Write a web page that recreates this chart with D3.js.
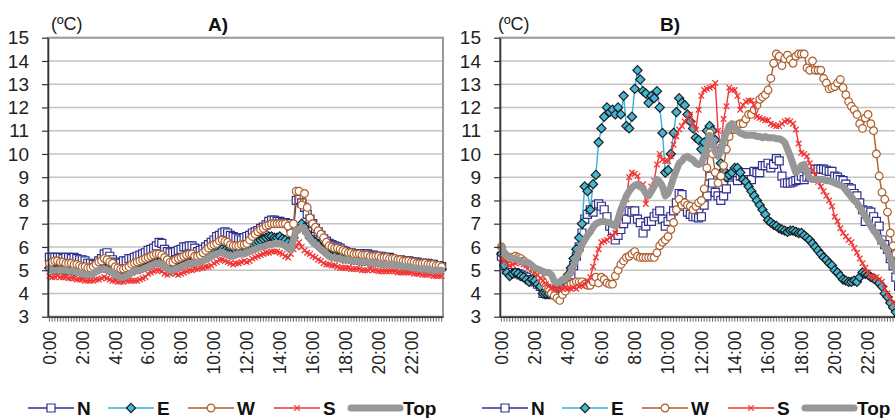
<!DOCTYPE html>
<html>
<head>
<meta charset="utf-8">
<script src="https://cdn.jsdelivr.net/npm/d3@7"></script>
<style>
  body { margin: 0; background: #fff; }
  svg { display: block; font-family: "Liberation Sans", Arial, sans-serif; }
</style>
</head>
<body>
<div id="chart"></div>
<script>
// series and labels
var seriesNames = ["N", "E", "W", "S", "Top"];
var panelTitles = ["A)", "B)"];
var unitLabel = "(ºC)";
var hourLabels = ["0:00", "2:00", "4:00", "6:00", "8:00", "10:00", "12:00", "14:00", "16:00", "18:00", "20:00", "22:00"];
var yTicks = [3, 4, 5, 6, 7, 8, 9, 10, 11, 12, 13, 14, 15];

// 10-minute readings, one row per hour
var nA = [
  5.55,5.55,5.55,5.55,5.55,5.5, 5.55,5.55,5.5,5.55,5.5,5.45, 5.45,5.4,5.3,5.3,5.25,5.25,
  5.4,5.5,5.7,5.75,5.6,5.45, 5.35,5.3,5.3,5.4,5.4,5.5, 5.5,5.55,5.6,5.65,5.7,5.75,
  5.85,5.9,5.95,6.05,6.2,6.15, 5.9,5.8,5.75,5.75,5.8,5.85, 5.9,6.0,6.0,6.05,6.05,5.95,
  5.8,5.85,5.9,6.0,6.1,6.2, 6.3,6.45,6.5,6.6,6.65,6.6, 6.5,6.45,6.4,6.35,6.3,6.4,
  6.45,6.5,6.6,6.65,6.7,6.8, 6.85,6.95,7.1,7.15,7.15,7.1, 7.1,7.05,7.05,7.0,6.85,6.75,
  8.0,8.05,7.9,7.7,7.4,7.2, 7.0,6.8,6.65,6.5,6.35,6.25, 6.15,6.1,6.05,6.0,5.95,5.85,
  5.8,5.75,5.75,5.7,5.7,5.7, 5.7,5.7,5.7,5.65,5.65,5.6, 5.6,5.6,5.55,5.55,5.55,5.5,
  5.45,5.45,5.45,5.4,5.4,5.4, 5.35,5.35,5.35,5.3,5.3,5.3, 5.3,5.25,5.25,5.2,5.2,5.15
];
var eA = [
  5.1,5.05,5.0,5.05,5.05,5.0, 5.0,5.0,5.0,4.95,4.95,4.95, 4.9,4.85,4.85,4.85,4.9,5.0,
  5.05,5.1,5.1,5.05,5.0,4.95, 4.85,4.8,4.75,4.75,4.8,4.85, 4.95,5.0,5.05,5.05,5.1,5.15,
  5.2,5.25,5.3,5.35,5.35,5.3, 5.2,5.1,5.05,5.05,5.1,5.15, 5.2,5.25,5.3,5.35,5.35,5.35,
  5.4,5.45,5.5,5.6,5.7,5.8, 5.9,5.95,5.95,5.9,5.85,5.8, 5.8,5.8,5.85,5.9,5.95,6.0,
  6.05,6.1,6.15,6.2,6.25,6.3, 6.35,6.4,6.45,6.45,6.4,6.4, 6.45,6.35,6.3,6.2,6.1,6.4,
  6.85,6.8,7.0,6.85,6.6,6.4, 6.3,6.2,6.1,5.95,5.85,5.75, 5.65,5.6,5.6,5.55,5.55,5.5,
  5.5,5.5,5.45,5.45,5.45,5.4, 5.4,5.4,5.4,5.35,5.35,5.35, 5.35,5.3,5.3,5.3,5.3,5.3,
  5.3,5.25,5.25,5.2,5.2,5.2, 5.15,5.15,5.15,5.1,5.1,5.1, 5.1,5.05,5.05,5.05,5.05,5.05
];
var wA = [
  5.3,5.35,5.4,5.4,5.35,5.35, 5.3,5.3,5.3,5.25,5.25,5.2, 5.15,5.15,5.1,5.1,5.15,5.25,
  5.35,5.4,5.5,5.45,5.35,5.3, 5.15,5.1,5.05,5.05,5.1,5.15, 5.25,5.3,5.35,5.4,5.45,5.5,
  5.55,5.6,5.65,5.7,5.7,5.65, 5.55,5.45,5.35,5.35,5.45,5.5, 5.55,5.6,5.65,5.7,5.7,5.6,
  5.6,5.65,5.75,5.85,5.95,6.05, 6.1,6.15,6.25,6.3,6.25,6.2, 6.1,6.05,6.05,6.05,6.1,6.1,
  6.15,6.3,6.45,6.55,6.65,6.75, 6.8,6.9,6.95,7.0,7.0,7.0, 7.0,7.0,7.0,6.9,6.6,7.0,
  8.4,8.4,7.8,8.3,7.7,7.25, 7.0,6.85,6.7,6.55,6.4,6.2, 6.05,6.0,5.95,5.95,5.9,5.85,
  5.8,5.75,5.75,5.7,5.7,5.7, 5.65,5.65,5.65,5.6,5.6,5.6, 5.6,5.55,5.55,5.55,5.5,5.5,
  5.5,5.45,5.45,5.4,5.4,5.4, 5.35,5.35,5.3,5.3,5.3,5.3, 5.25,5.25,5.25,5.2,5.2,5.15
];
var sA = [
  4.75,4.7,4.7,4.75,4.7,4.7, 4.7,4.65,4.65,4.65,4.6,4.6, 4.6,4.55,4.55,4.55,4.55,4.6,
  4.6,4.65,4.7,4.65,4.6,4.55, 4.55,4.5,4.5,4.5,4.55,4.55, 4.55,4.55,4.55,4.6,4.65,4.7,
  4.85,4.9,4.95,5.0,5.0,4.95, 4.85,4.8,4.85,4.9,4.85,4.8, 4.85,4.9,4.95,5.0,5.0,5.05,
  5.05,5.1,5.1,5.15,5.15,5.2, 5.3,5.35,5.45,5.45,5.4,5.35, 5.3,5.25,5.3,5.3,5.35,5.4,
  5.35,5.4,5.5,5.55,5.6,5.65, 5.7,5.75,5.75,5.8,5.8,5.8, 5.75,5.7,5.6,5.55,5.7,5.9,
  6.0,6.2,6.0,5.85,5.75,5.7, 5.6,5.55,5.45,5.4,5.3,5.25, 5.25,5.2,5.2,5.15,5.1,5.1,
  5.1,5.1,5.05,5.05,5.05,5.05, 5.0,5.0,5.0,5.05,5.0,5.0, 4.95,4.95,4.95,4.95,4.95,4.95,
  4.95,4.9,4.9,4.9,4.9,4.9, 4.9,4.85,4.85,4.85,4.8,4.8, 4.8,4.8,4.75,4.75,4.75,4.75
];
var topA = [
  5.05,5.0,5.0,5.0,5.0,5.0, 5.0,4.95,4.95,4.95,4.9,4.9, 4.85,4.8,4.8,4.8,4.85,4.95,
  5.0,5.05,5.05,5.0,4.95,4.9, 4.8,4.75,4.7,4.7,4.75,4.8, 4.9,4.95,5.0,5.0,5.05,5.1,
  5.15,5.2,5.25,5.3,5.3,5.25, 5.15,5.05,5.0,5.0,5.05,5.1, 5.15,5.2,5.25,5.3,5.3,5.3,
  5.3,5.35,5.4,5.45,5.5,5.6, 5.65,5.7,5.75,5.75,5.7,5.65, 5.6,5.6,5.65,5.7,5.7,5.7,
  5.75,5.8,5.85,5.9,5.95,6.0, 6.0,6.05,6.1,6.1,6.15,6.15, 6.15,6.1,6.05,5.95,5.85,6.3,
  6.75,6.75,6.85,6.75,6.55,6.35, 6.2,6.1,6.0,5.9,5.8,5.7, 5.6,5.55,5.55,5.5,5.5,5.45,
  5.45,5.45,5.4,5.4,5.4,5.35, 5.35,5.35,5.35,5.3,5.3,5.3, 5.3,5.25,5.25,5.25,5.25,5.25,
  5.25,5.2,5.2,5.15,5.15,5.15, 5.1,5.1,5.1,5.05,5.05,5.05, 5.05,5.0,5.0,5.0,5.0,5.0
];

var nB = [
  5.6,5.2,5.0,4.9,4.9,4.9, 4.85,4.8,4.75,4.7,4.6,4.6, 4.5,4.4,4.3,4.0,4.0,3.95,
  4.0,4.1,4.2,4.2,4.3,4.4, 4.5,4.8,5.2,5.6,6.0,6.6, 7.2,7.4,7.6,7.5,7.8,7.85,
  7.75,7.6,7.3,6.9,6.7,6.3, 6.5,6.75,7.0,7.2,7.55,7.5, 7.55,7.2,7.05,6.6,6.9,7.1,
  7.1,7.3,7.45,7.55,7.2,6.9, 7.1,7.3,7.55,7.9,8.3,8.25, 7.75,7.5,7.4,7.3,7.3,7.25,
  7.3,7.8,8.2,9.05,8.75,8.35, 8.2,8.0,8.2,8.5,9.0,9.1, 9.1,8.85,9.05,9.05,9.2,8.9,
  8.9,9.25,9.2,9.2,9.5,9.5, 9.6,9.4,9.55,9.8,9.7,9.05, 8.75,8.75,8.75,8.8,8.85,8.9,
  9.05,8.9,9.0,9.05,9.2,9.35, 9.35,9.35,9.35,9.3,9.25,9.25, 9.05,9.0,8.9,8.85,8.7,8.55,
  8.5,8.3,8.2,7.9,7.6,7.1, 7.55,7.5,7.3,7.1,6.9,6.3, 6.1,5.9,5.5,5.2,4.7,4.3
];
var eB = [
  5.7,5.2,4.9,4.75,4.85,4.9, 4.85,4.75,4.7,4.6,4.5,4.6, 4.55,4.4,4.3,4.0,4.0,4.0,
  4.1,4.1,4.1,4.2,4.3,4.5, 4.8,5.1,5.5,5.9,6.4,7.0, 8.6,8.4,7.6,8.7,9.1,10.5,
  11.1,11.6,12.0,11.8,11.9,11.7, 12.0,11.7,12.5,11.2,11.1,11.6, 12.8,13.6,13.2,12.7,12.6,12.2,
  12.5,12.4,12.7,12.0,10.9,9.2, 9.3,10.0,10.9,11.8,12.4,12.2, 12.1,11.7,11.4,11.1,10.7,10.6,
  10.2,10.5,11.0,11.2,11.0,10.6, 10.1,9.6,9.3,9.0,9.1,9.2, 9.4,9.4,9.2,8.9,8.8,8.6,
  8.4,8.2,8.0,7.8,7.6,7.4, 7.15,7.05,6.95,6.9,6.8,6.75, 6.7,6.65,6.7,6.7,6.65,6.6,
  6.6,6.5,6.4,6.3,6.15,6.0, 5.85,5.7,5.55,5.45,5.3,5.2, 5.0,4.9,4.75,4.6,4.55,4.5,
  4.5,4.55,4.5,4.7,4.9,4.85, 4.8,4.7,4.65,4.55,4.45,4.3, 4.0,3.85,3.6,3.4,3.2,3.0
];
var wB = [
  6.0,5.7,5.6,5.5,5.55,5.6, 5.55,5.5,5.4,5.3,5.2,5.1, 5.0,4.9,4.7,4.5,4.3,4.2,
  4.0,3.9,3.8,3.7,3.95,4.1, 4.3,4.4,4.45,4.5,4.5,4.5, 4.4,4.35,4.35,4.5,4.7,4.45,
  4.7,4.6,4.45,4.4,4.4,4.75, 5.0,5.25,5.4,5.55,5.6,5.7, 5.8,5.6,5.55,5.55,5.55,5.55,
  5.55,5.55,5.75,6.05,6.2,6.3, 6.45,6.75,7.05,7.6,8.05,7.8, 7.9,7.8,7.75,7.6,7.75,7.9,
  8.0,8.5,9.4,10.9,10.0,9.2, 8.75,9.05,9.5,10.2,10.75,11.05, 11.05,11.25,11.3,11.3,11.5,11.7,
  11.7,11.9,12.1,12.35,12.45,12.55, 12.75,13.25,13.9,14.3,14.2,13.8, 14.1,14.25,14.05,13.9,14.2,14.3,
  14.3,14.3,13.7,13.6,14.0,13.6, 13.6,13.6,13.25,13.05,12.8,12.85, 12.9,13.05,13.2,12.85,12.55,12.25,
  12.05,11.9,11.7,11.3,11.1,11.55, 11.7,11.3,11.0,10.0,9.05,8.35, 8.05,7.5,6.6,6.05,5.7,5.4
];
var sB = [
  5.5,5.4,5.3,5.2,5.25,5.3, 5.35,5.3,5.25,5.2,5.15,5.05, 4.9,4.8,4.65,4.55,4.4,4.3,
  4.25,4.2,4.2,4.2,4.2,4.25, 4.2,4.2,4.25,4.2,4.3,4.35, 4.4,4.55,4.7,5.15,5.55,5.9,
  6.2,6.25,6.3,6.4,6.5,6.6, 6.9,7.45,7.8,8.05,9.0,9.2, 9.15,9.05,8.6,8.7,7.85,8.35,
  8.6,8.85,9.55,10.0,9.75,9.7, 9.7,9.9,10.4,10.75,11.05,11.2, 11.4,11.55,11.7,11.3,11.05,11.9,
  12.5,12.75,12.8,12.85,12.9,13.05, 11.0,10.3,11.5,12.05,12.85,12.75, 12.75,12.5,11.9,12.1,12.25,12.3,
  12.3,12.1,11.6,11.55,11.5,11.45, 11.45,11.3,11.25,11.2,11.2,11.3, 11.4,11.45,11.4,11.3,11.05,10.45,
  10.05,10.0,9.9,9.6,9.3,9.1, 8.8,8.6,8.4,8.2,8.0,7.75, 7.3,7.1,6.8,6.6,6.45,6.3,
  6.2,5.95,5.75,5.5,5.3,5.1, 4.9,4.75,4.7,4.7,4.6,4.5, 4.2,4.0,3.75,3.6,3.5,3.4
];
var topB = [
  6.0,5.75,5.6,5.55,5.5,5.5, 5.45,5.4,5.35,5.35,5.3,5.2, 5.1,5.05,5.0,4.95,4.9,4.9,
  4.8,4.55,4.45,4.5,4.6,4.65, 4.75,4.9,5.2,5.5,5.8,6.1, 6.3,6.5,6.65,6.85,7.0,7.05,
  7.1,7.1,7.05,7.05,6.95,6.9, 7.2,7.6,7.9,8.2,8.4,8.55, 8.65,8.7,8.6,8.5,8.3,8.2,
  8.4,8.6,8.9,8.8,8.6,8.2, 8.3,8.6,9.0,9.3,9.6,9.7, 9.85,9.9,9.8,9.75,9.6,9.55,
  9.6,9.9,10.3,10.8,10.5,10.1, 9.9,10.1,10.6,10.9,11.2,11.3, 11.1,11.0,10.9,10.85,10.8,10.8,
  10.8,10.8,10.75,10.75,10.7,10.75, 10.7,10.7,10.7,10.65,10.65,10.6, 10.5,10.2,9.9,9.55,9.2,9.3,
  9.5,9.55,9.2,8.95,8.9,8.9, 8.9,8.9,8.9,8.85,8.85,8.8, 8.75,8.7,8.65,8.6,8.45,8.3,
  8.15,8.0,7.9,7.7,7.5,7.3, 7.1,6.9,6.7,6.55,6.35,6.2, 6.0,5.8,5.5,5.2,5.0,4.8
];

var W = 895, H = 418;
var plotTop = 37.7, plotBottom = 316.7;

var styles = {
  N:   { color: "#30308f", width: 1.4, marker: "M-4,-4h8v8h-8z", fill: "#fff", mstroke: "#30308f" },
  E:   { color: "#35b3d6", width: 1.4, marker: "M0,-4.6L4.6,0L0,4.6L-4.6,0Z", fill: "#42b7d6", mstroke: "#1d1d1d" },
  W:   { color: "#ad5e2b", width: 1.4, marker: d3.symbol(d3.symbolCircle, 46)(), fill: "#fff", mstroke: "#ad5e2b" },
  S:   { color: "#f23535", width: 1.4, marker: "M-2.8,-2.8L2.8,2.8M-2.8,2.8L2.8,-2.8", fill: "none", mstroke: "#f23535" },
  Top: { color: "#979797", width: 7, marker: null }
};

var panels = [
  { left: 48,  width: 395, title: panelTitles[0], data: [nA, eA, wA, sA, topA], legendX: 0 },
  { left: 500, width: 400, title: panelTitles[1], data: [nB, eB, wB, sB, topB], legendX: 454 }
];

var slots = d3.range(0, 1440, 10);

var svg = d3.select("#chart").append("svg")
    .attr("width", W)
    .attr("height", H);

var y = d3.scaleLinear().domain([3, 15]).range([plotBottom, plotTop]);

panels.forEach(function(p) {
    var x = d3.scaleBand().domain(slots).range([p.left, p.left + p.width]);
    var bw = x.bandwidth();
    var g = svg.append("g");

    // gridlines
    g.selectAll("line.grid")
        .data(yTicks.filter(function(t) { return t > 3; }))
        .join("line")
        .attr("x1", p.left).attr("x2", p.left + p.width)
        .attr("y1", function(d) { return y(d); })
        .attr("y2", function(d) { return y(d); })
        .attr("stroke", "#c3c3c3")
        .attr("stroke-width", 1.6);

    // plot border (top / right)
    g.append("rect")
        .attr("x", p.left).attr("y", plotTop)
        .attr("width", p.width).attr("height", plotBottom - plotTop)
        .attr("fill", "none")
        .attr("stroke", "#9a9a9a")
        .attr("stroke-width", 2);

    // series
    seriesNames.forEach(function(name, si) {
        var st = styles[name];
        var vals = p.data[si];
        var line = d3.line()
            .x(function(d, i) { return x(slots[i]) + bw / 2; })
            .y(function(d) { return y(d); });
        g.append("path")
            .attr("d", line(vals))
            .attr("fill", "none")
            .attr("stroke", st.color)
            .attr("stroke-width", st.width)
            .attr("stroke-linejoin", "round")
            .attr("stroke-linecap", "round");
        if (st.marker) {
            g.append("g").selectAll("path")
                .data(vals)
                .join("path")
                .attr("transform", function(d, i) {
                    return "translate(" + (x(slots[i]) + bw / 2) + "," + y(d) + ")";
                })
                .attr("d", st.marker)
                .attr("fill", st.fill)
                .attr("stroke", st.mstroke)
                .attr("stroke-width", name === "S" ? 1.3 : 1.2);
        }
    });

    // y axis
    var yAxis = g.append("g")
        .attr("transform", "translate(" + p.left + ",0)")
        .call(d3.axisLeft(y).tickValues(yTicks).tickSize(6).tickSizeOuter(0).tickPadding(13));
    yAxis.select(".domain").attr("stroke", "#333").attr("stroke-width", 1.6);
    yAxis.selectAll(".tick line").attr("stroke", "#333").attr("stroke-width", 1.2);
    yAxis.selectAll("text")
        .attr("font-size", 19)
        .attr("fill", "#222")
        .attr("font-family", "Liberation Sans, Arial, sans-serif");

    // x axis, one small tick per 10-minute slot
    var xAxis = g.append("g")
        .attr("transform", "translate(0," + plotBottom + ")")
        .call(d3.axisBottom(x).tickValues(slots).tickSize(5).tickSizeOuter(0)
            .tickFormat(function(d, i) { return i % 12 === 0 ? hourLabels[i / 12] : ""; }));
    xAxis.select(".domain").attr("stroke", "#333").attr("stroke-width", 1.6);
    xAxis.selectAll(".tick line").attr("stroke", "#444").attr("stroke-width", 0.8);
    xAxis.selectAll("text")
        .attr("font-size", 17.5)
        .attr("fill", "#222")
        .attr("font-family", "Liberation Sans, Arial, sans-serif")
        .attr("text-anchor", "end")
        .attr("transform", "rotate(-90)")
        .attr("x", -14)
        .attr("y", 0)
        .attr("dy", "0.36em");

    // titles
    svg.append("text")
        .attr("x", p.left + 170).attr("y", 31)
        .attr("text-anchor", "middle")
        .attr("font-size", 19).attr("font-weight", "bold")
        .attr("fill", "#111")
        .text(p.title);
    svg.append("text")
        .attr("x", p.left + (p.legendX ? -2 : 3)).attr("y", 30)
        .attr("font-size", 18)
        .attr("fill", "#222")
        .text(unitLabel);

    // legend
    var legendItems = [28, 108, 188, 274, 351];
    var lg = svg.append("g").attr("transform", "translate(" + p.legendX + ",408)");
    seriesNames.forEach(function(name, si) {
        var st = styles[name];
        var lx = legendItems[si];
        var len = name === "Top" ? 49 : 46;
        lg.append("line")
            .attr("x1", lx).attr("x2", lx + len)
            .attr("y1", 0).attr("y2", 0)
            .attr("stroke", st.color)
            .attr("stroke-width", name === "Top" ? 7 : 1.6)
            .attr("stroke-linecap", name === "Top" ? "round" : "butt");
        if (st.marker) {
            lg.append("path")
                .attr("transform", "translate(" + (lx + len / 2) + ",0)")
                .attr("d", st.marker)
                .attr("fill", st.fill)
                .attr("stroke", st.mstroke)
                .attr("stroke-width", 1.2);
        }
        lg.append("text")
            .attr("x", lx + len + 3).attr("y", 7)
            .attr("font-size", 19).attr("font-weight", "bold")
            .attr("fill", "#111")
            .text(name);
    });
});
</script>
</body>
</html>
